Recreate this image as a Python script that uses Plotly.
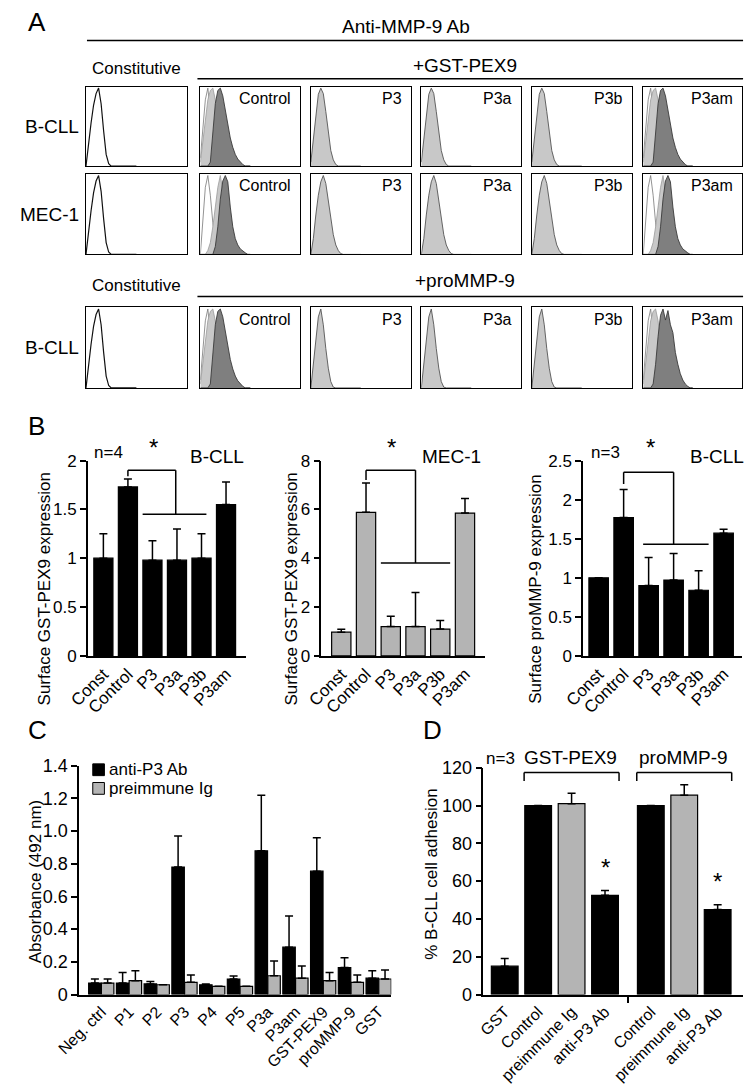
import plotly.graph_objects as go

W, H = 745, 1086
FONT = "Arial, Liberation Sans, sans-serif"

# ---------------- Panel A: flow cytometry histograms (relative counts on a shared channel grid)
HIST_X = [0, 0.025, 0.05, 0.075, 0.1, 0.125, 0.15, 0.175, 0.2, 0.225, 0.25,
          0.275, 0.3, 0.325, 0.35, 0.375, 0.4, 0.425, 0.45, 0.475, 0.5]
CONST = [0, .30, .55, .78, .93, 1.0, .80, .45, .15, .03, 0, 0, 0, 0, 0, 0, 0, 0, 0, 0, 0]
ISO_B = [.10, .50, .85, 1.0, .70, .30, .08, 0, 0, 0, 0, 0, 0, 0, 0, 0, 0, 0, 0, 0, 0]
LIGHT_B = [.05, .30, .60, .85, .97, 1.0, .85, .55, .25, .08, .01, 0, 0, 0, 0, 0, 0, 0, 0, 0, 0]
DARK_B = [0, 0, 0, 0, .05, .40, .80, .97, 1.0, .90, .72, .52, .36, .24, .15, .09, .05, .02, 0, 0, 0]
P3_B = [.05, .35, .70, .92, 1.0, .93, .70, .42, .20, .08, .02, 0, 0, 0, 0, 0, 0, 0, 0, 0, 0]
ISO_M = [0, .45, .85, 1.0, .75, .40, .15, .04, 0, 0, 0, 0, 0, 0, 0, 0, 0, 0, 0, 0, 0]
LIGHT_M = [0, 0, 0, .05, .15, .35, .60, .85, 1.0, .80, .45, .20, .08, .02, 0, 0, 0, 0, 0, 0, 0]
DARK_M = [0, 0, 0, 0, 0, 0, .10, .35, .70, .93, 1.0, .92, .60, .35, .20, .12, .07, .04, .02, 0, 0]
P3_M = [0, .20, .50, .75, .92, 1.0, .90, .70, .45, .25, .12, .05, .01, 0, 0, 0, 0, 0, 0, 0, 0]
P3_P = [0, .30, .65, .90, 1.0, .80, .50, .25, .08, .01, 0, 0, 0, 0, 0, 0, 0, 0, 0, 0, 0]
DARK_P = [0, 0, 0, 0, .05, .30, .65, .92, 1.0, .86, .98, .80, .70, .45, .30, .18, .10, .05, .02, 0, 0]

CURVES = {"CONST": CONST, "ISO_B": ISO_B, "LIGHT_B": LIGHT_B, "DARK_B": DARK_B, "P3_B": P3_B,
          "ISO_M": ISO_M, "LIGHT_M": LIGHT_M, "DARK_M": DARK_M, "P3_M": P3_M,
          "P3_P": P3_P, "DARK_P": DARK_P}

A_ROW_LABELS = ["B-CLL", "MEC-1", "B-CLL"]
A_BOX_LABELS = ["", "Control", "P3", "P3a", "P3b", "P3am"]
A_CONTENT = [
    [["CONST"], ["ISO_B", "LIGHT_B", "DARK_B"], ["P3_B"], ["P3_B"], ["P3_B"], ["ISO_B", "LIGHT_B", "DARK_B"]],
    [["CONST"], ["ISO_M", "LIGHT_M", "DARK_M"], ["P3_M"], ["P3_M"], ["P3_M"], ["ISO_M", "LIGHT_M", "DARK_M"]],
    [["CONST"], ["ISO_B", "LIGHT_B", "DARK_B"], ["P3_P"], ["P3_P"], ["P3_P"], ["ISO_B", "LIGHT_B", "DARK_P"]],
]

# ---------------- Panel B
B_CATS = ["Const", "Control", "P3", "P3a", "P3b", "P3am"]
B1_MEAN = [1.0, 1.73, 0.98, 0.98, 1.0, 1.55]
B1_ERR = [0.25, 0.08, 0.20, 0.32, 0.25, 0.23]
B2_MEAN = [0.97, 5.88, 1.2, 1.2, 1.1, 5.85]
B2_ERR = [0.12, 1.2, 0.42, 1.4, 0.35, 0.6]
B3_MEAN = [1.0, 1.77, 0.9, 0.97, 0.84, 1.57]
B3_ERR = [0, 0.36, 0.36, 0.34, 0.25, 0.05]

# ---------------- Panel C
C_CATS = ["Neg. ctrl", "P1", "P2", "P3", "P4", "P5", "P3a", "P3am", "GST-PEX9", "proMMP-9", "GST"]
C_ANTI = [0.07, 0.07, 0.065, 0.78, 0.06, 0.095, 0.88, 0.29, 0.755, 0.165, 0.10]
C_ANTI_ERR = [0.025, 0.065, 0.015, 0.19, 0.005, 0.018, 0.34, 0.19, 0.205, 0.06, 0.045]
C_PRE = [0.07, 0.085, 0.06, 0.075, 0.05, 0.05, 0.115, 0.10, 0.085, 0.075, 0.095]
C_PRE_ERR = [0.025, 0.06, 0, 0.045, 0, 0, 0.09, 0.075, 0.05, 0.045, 0.055]

# ---------------- Panel D
D_CATS = ["GST", "Control", "preimmune Ig", "anti-P3 Ab", "Control", "preimmune Ig", "anti-P3 Ab"]
D_MEAN = [15, 100, 101, 52.5, 100, 105.5, 45]
D_ERR = [4, 0, 5.5, 2.5, 0, 5.5, 2.5]
D_GREY = [False, False, True, False, False, True, False]

BLACK = "#000000"
GREY = "#b4b4b4"


def fx(p):
    return p / W


def fy(p):
    return 1 - p / H


fig = go.Figure()
axes = {}
shapes = []
annots = []
n_ax = [0]


def add_axes(x0, x1, y0, y1, xa, ya):
    n_ax[0] += 1
    s = "" if n_ax[0] == 1 else str(n_ax[0])
    axes["xaxis" + s] = dict(domain=[fx(x0), fx(x1)], anchor="y" + s, **xa)
    axes["yaxis" + s] = dict(domain=[fy(y1), fy(y0)], anchor="x" + s, **ya)
    return "x" + s, "y" + s


def txt(s, x, y, size, xanchor="center", yanchor="middle", **kw):
    annots.append(dict(text=s, x=fx(x), y=fy(y), xref="paper", yref="paper", showarrow=False,
                       xanchor=xanchor, yanchor=yanchor,
                       font=dict(family=FONT, size=size, color="black"), **kw))


def hline(x0, x1, y, w=1.5):
    shapes.append(dict(type="line", xref="paper", yref="paper", x0=fx(x0), x1=fx(x1),
                       y0=fy(y), y1=fy(y), line=dict(color="black", width=w)))


# ----- Panel A layout
BOX_L = [65, 183, 297, 411, 525, 640]
BOX_R = [169, 286, 400, 514, 628, 742]
ROW_Y = [(78, 159), (167, 249), (303, 385)]
STYLE = {
    "CONST": dict(fill="white", line="#111111", w=1.2),
    "ISO_B": dict(fill="white", line="#777777", w=0.8),
    "ISO_M": dict(fill="white", line="#777777", w=0.8),
    "LIGHT_B": dict(fill="#c8c8c8", line="#9a9a9a", w=0.8),
    "LIGHT_M": dict(fill="#c8c8c8", line="#9a9a9a", w=0.8),
    "DARK_B": dict(fill="#7f7f7f", line="#3a3a3a", w=0.9),
    "DARK_M": dict(fill="#7f7f7f", line="#3a3a3a", w=0.9),
    "DARK_P": dict(fill="#7f7f7f", line="#3a3a3a", w=0.9),
    "P3_B": dict(fill="#c8c8c8", line="#555555", w=0.9),
    "P3_M": dict(fill="#c8c8c8", line="#555555", w=0.9),
    "P3_P": dict(fill="#c8c8c8", line="#555555", w=0.9),
}
BOX_AX = dict(range=[0, 1], showline=True, mirror=True, linecolor="black", linewidth=1.4,
              showticklabels=False, ticks="", showgrid=False, zeroline=False, fixedrange=True)
BOX_AY = dict(range=[0, 1.02], showline=True, mirror=True, linecolor="black", linewidth=1.4,
              showticklabels=False, ticks="", showgrid=False, zeroline=False, fixedrange=True)

for r, (y0, y1) in enumerate(ROW_Y):
    txt(A_ROW_LABELS[r], 60, (y0 + y1) / 2, 19, xanchor="right")
    for c in range(6):
        xa, ya = add_axes(BOX_L[c], BOX_R[c], y0, y1, BOX_AX, BOX_AY)
        for name in A_CONTENT[r][c]:
            st = STYLE[name]
            fig.add_trace(go.Scatter(x=HIST_X, y=CURVES[name], mode="lines", fill="tozeroy",
                                     fillcolor=st["fill"], line=dict(color=st["line"], width=st["w"]),
                                     xaxis=xa, yaxis=ya, showlegend=False, hoverinfo="skip"))
        if A_BOX_LABELS[c]:
            txt(A_BOX_LABELS[c], BOX_R[c] - 7, y0 + 12, 16, xanchor="right")

txt("A", 3, 12, 26, xanchor="left")
txt("Anti-MMP-9 Ab", 395, 17, 19)
hline(66, 743, 31)
txt("+GST-PEX9", 456, 57, 19)
txt("Constitutive", 117, 60, 17)
hline(180, 743, 70)
txt("+proMMP-9", 456, 276, 19)
txt("Constitutive", 117, 281, 17)
hline(180, 743, 292)


# ----- bar chart axis styles
def yax(rng, vals, texts, size):
    return dict(range=rng, tickvals=vals, ticktext=texts, showline=True, linecolor="black",
                linewidth=1.6, ticks="outside", ticklen=6, tickwidth=1.6, tickcolor="black",
                showgrid=False, zeroline=False, fixedrange=True,
                tickfont=dict(family=FONT, size=size, color="black"))


def xax(rng, vals, texts, size):
    return dict(range=rng, tickvals=vals, ticktext=texts, tickangle=-45, showline=True,
                linecolor="black", linewidth=1.6, ticks="", showgrid=False, zeroline=False,
                fixedrange=True, tickfont=dict(family=FONT, size=size, color="black"))


def err(vals):
    return dict(type="data", array=vals, arrayminus=[0] * len(vals), symmetric=False,
                color="black", thickness=1.5, width=4)


def bracket(xa, ya, pts):
    for (x0, y0, x1, y1) in pts:
        shapes.append(dict(type="line", xref=xa, yref=ya, x0=x0, y0=y0, x1=x1, y1=y1,
                           line=dict(color="black", width=1.5)))


# ----- Panel B
txt("B", 3, 424, 26, xanchor="left")
B_SET = [
    (B1_MEAN, B1_ERR, BLACK, (67, 230), [-0.63, 5.81], [0, 2], [0, 0.5, 1, 1.5, 2],
     ["0", "0.5", "1", "1.5", "2"], "Surface GST-PEX9 expression", 22),
    (B2_MEAN, B2_ERR, GREY, (308, 477), [-0.8, 5.82], [0, 8], [0, 2, 4, 6, 8],
     ["0", "2", "4", "6", "8"], "Surface GST-PEX9 expression", 277),
    (B3_MEAN, B3_ERR, BLACK, (578, 742), [-0.62, 5.74], [0, 2.5], [0, 0.5, 1, 1.5, 2, 2.5],
     ["0", "0.5", "1", "1.5", "2", "2.5"], "Surface proMMP-9 expression", 528),
]
B_BRACKETS = [
    [(1, 1.84, 1, 1.9), (1, 1.9, 2.95, 1.9), (2.95, 1.9, 2.95, 1.45), (1.6, 1.45, 4.2, 1.45)],
    [(1, 7.2, 1, 7.6), (1, 7.6, 3.0, 7.6), (3.0, 7.6, 3.0, 3.8), (1.6, 3.8, 4.4, 3.8)],
    [(1, 2.2, 1, 2.35), (1, 2.35, 3.0, 2.35), (3.0, 2.35, 3.0, 1.43), (1.78, 1.43, 4.4, 1.43)],
]
for i, (mean, e, col, (ax0, ax1), xr, yr, tv, tt, ytitle, tx) in enumerate(B_SET):
    xa, ya = add_axes(ax0, ax1, 459, 658, xax(xr, list(range(6)), B_CATS, 17),
                      yax(yr, tv, tt, 17))
    fig.add_trace(go.Bar(x=list(range(6)), y=mean, width=0.78, marker=dict(color=col,
                         line=dict(color="black", width=1.2)), error_y=err(e),
                         xaxis=xa, yaxis=ya, showlegend=False))
    bracket(xa, ya, B_BRACKETS[i])
    txt(ytitle, tx, 590, 17, textangle=-90)

txt("n=4", 88, 451, 17)
txt("*", 135, 446, 24)
txt("B-CLL", 200, 455, 19)
txt("*", 380, 446, 24)
txt("MEC-1", 442, 455, 19)
txt("n=3", 601, 451, 17)
txt("*", 648, 446, 24)
txt("B-CLL", 716, 455, 19)

# ----- Panel C
txt("C", 3, 733, 26, xanchor="left")
xa, ya = add_axes(58, 380, 770, 1003, xax([-0.8, 10.45], list(range(11)), C_CATS, 16),
                  yax([0, 1.4], [0, 0.2, 0.4, 0.6, 0.8, 1.0, 1.2, 1.4],
                      ["0", "0.2", "0.4", "0.6", "0.8", "1.0", "1.2", "1.4"], 18))
fig.add_trace(go.Bar(x=list(range(11)), y=C_ANTI, width=0.45, offset=-0.46, name="anti-P3 Ab",
                     marker=dict(color=BLACK, line=dict(color="black", width=1.2)),
                     error_y=err(C_ANTI_ERR), xaxis=xa, yaxis=ya, showlegend=False))
fig.add_trace(go.Bar(x=list(range(11)), y=C_PRE, width=0.45, offset=0.0, name="preimmune Ig",
                     marker=dict(color=GREY, line=dict(color="black", width=1.2)),
                     error_y=err(C_PRE_ERR), xaxis=xa, yaxis=ya, showlegend=False))
txt("Absorbance (492 nm)", 13, 888, 17, textangle=-90)
for k, (lab, col) in enumerate([("anti-P3 Ab", BLACK), ("preimmune Ig", GREY)]):
    yc = 774 + 19 * k
    shapes.append(dict(type="rect", xref="paper", yref="paper", x0=fx(72), x1=fx(84),
                       y0=fy(yc + 6), y1=fy(yc - 6), fillcolor=col,
                       line=dict(color="black", width=1)))
    txt(lab, 87, yc, 17, xanchor="left")

# ----- Panel D
txt("D", 411, 733, 26, xanchor="left")
D_X = [0, 1, 2, 3, 4.37, 5.37, 6.37]
dx_ax = xax([-0.64, 7.13], D_X, D_CATS, 16)
dx_ax["minor"] = dict(tickmode="array", tickvals=[3.68], ticks="outside", ticklen=7,
                      tickwidth=1.6, tickcolor="black", showgrid=False)
xa, ya = add_axes(475, 743, 772, 1003, dx_ax,
                  yax([0, 120], [0, 20, 40, 60, 80, 100, 120],
                      ["0", "20", "40", "60", "80", "100", "120"], 18))
fig.add_trace(go.Bar(x=D_X, y=D_MEAN, width=0.8,
                     marker=dict(color=[GREY if g else BLACK for g in D_GREY],
                                 line=dict(color="black", width=1.2)),
                     error_y=err(D_ERR), xaxis=xa, yaxis=ya, showlegend=False))
bracket(xa, ya, [(0.58, 113, 0.58, 117.5), (0.58, 117.5, 3.42, 117.5), (3.42, 117.5, 3.42, 113),
                 (3.95, 113, 3.95, 117.5), (3.95, 117.5, 6.79, 117.5), (6.79, 117.5, 6.79, 113)])
annots.append(dict(text="*", x=3, y=D_MEAN[3] + D_ERR[3] + 4, xref=xa, yref=ya, showarrow=False,
                   yanchor="bottom", font=dict(family=FONT, size=24, color="black")))
annots.append(dict(text="*", x=6.37, y=D_MEAN[6] + D_ERR[6] + 4, xref=xa, yref=ya,
                   showarrow=False, yanchor="bottom",
                   font=dict(family=FONT, size=24, color="black")))
txt("% B-CLL cell adhesion", 422, 880, 17, textangle=-90)
txt("n=3", 493, 763, 17)
txt("GST-PEX9", 565, 762, 19)
txt("proMMP-9", 682, 762, 19)

fig.update_layout(width=W, height=H, margin=dict(l=0, r=0, t=0, b=0),
                  paper_bgcolor="white", plot_bgcolor="white", barmode="overlay",
                  shapes=shapes, annotations=annots, showlegend=False, **axes)

fig.write_html("out.html", config={"displayModeBar": False},
               post_script="document.body.style.margin='0';")
